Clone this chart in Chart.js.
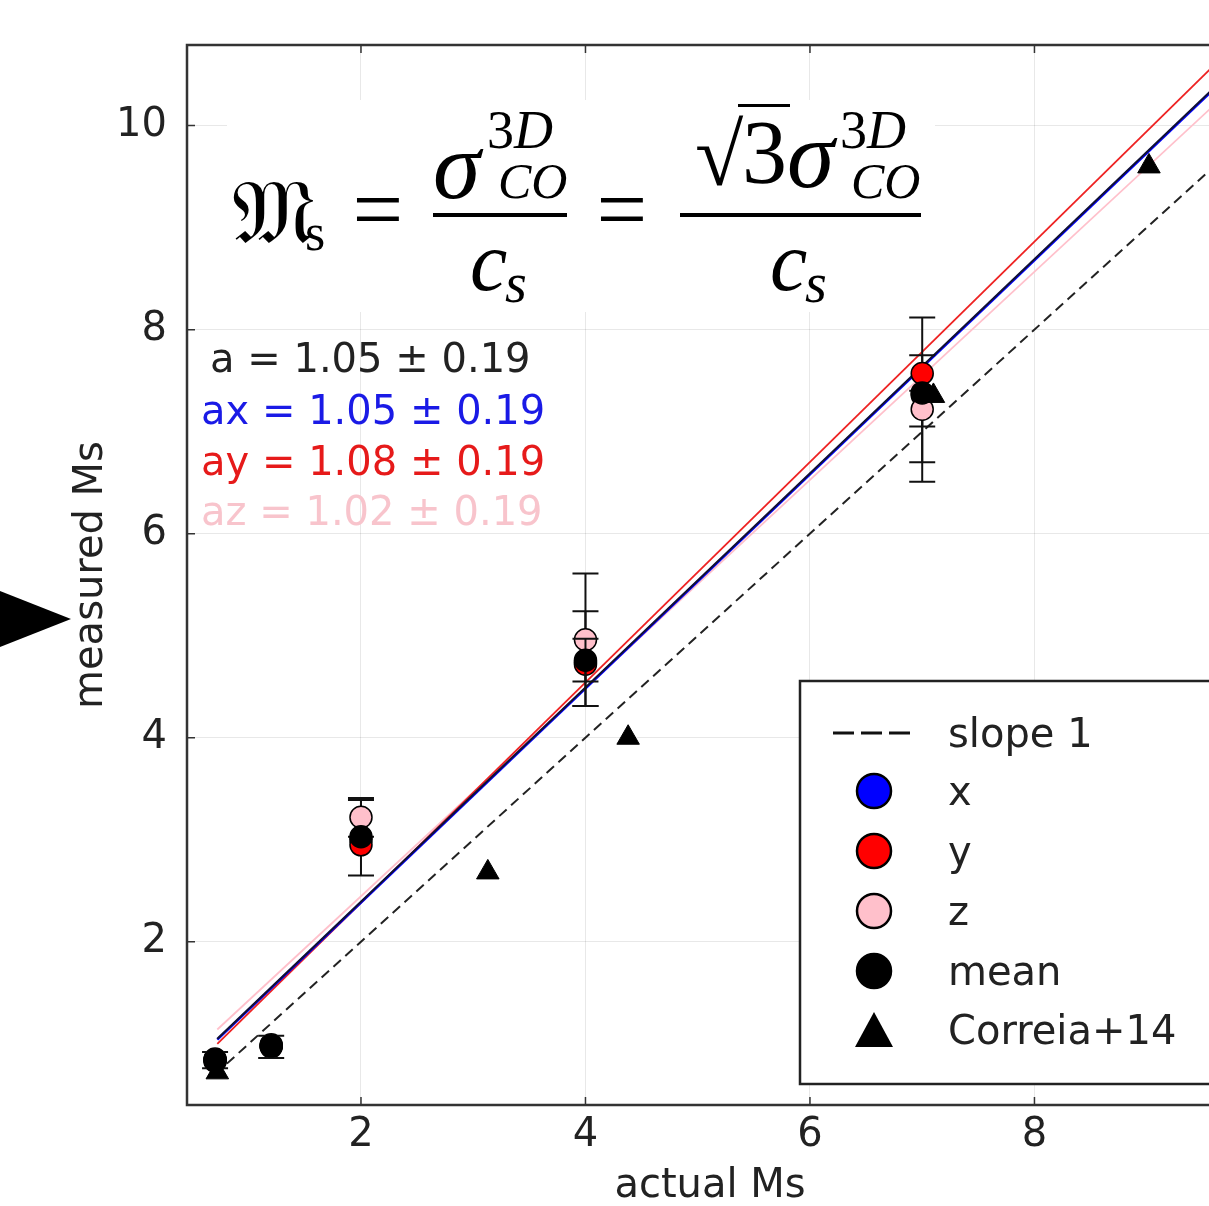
<!DOCTYPE html>
<html>
<head>
<meta charset="utf-8">
<script src="https://cdn.jsdelivr.net/npm/chart.js@4.4.0/dist/chart.umd.min.js"></script>
<style>
  html, body { margin: 0; padding: 0; background: #fff; overflow: hidden; }
  #c { display: block; }
</style>
</head>
<body>
<canvas id="c" width="1209" height="1206"></canvas>
<script>
// actual Mach numbers of the runs
var actualMs = [0.7, 1.2, 2, 4, 7];
// measured Ms for each line of sight, and their mean
var msX = [0.84, 0.98, 3.00, 4.74, 7.36];
var msY = [0.83, 0.97, 2.95, 4.72, 7.57];
var msZ = [0.85, 0.99, 3.22, 4.96, 7.22];
var msMean = [0.84, 0.98, 3.03, 4.76, 7.38];
// error bar ends (null = no bar drawn)
var errXlo = [null, null, null, null, 6.51];
var errXhi = [null, null, null, null, 8.12];
var errYlo = [null, null, 2.65, 4.31, 7.05];
var errYhi = [null, null, 3.39, 5.24, 7.75];
var errZlo = [null, null, 3.03, 4.31, 6.70];
var errZhi = [null, null, 3.41, 5.61, 7.40];
var errMlo = [0.76, 0.86, null, 4.55, null];
var errMhi = [0.92, 1.08, null, 4.97, null];
// Correia+14 comparison points
var corrX = [0.72, 3.13, 4.38, 7.10, 9.02];
var corrY = [0.72, 2.68, 4.00, 7.35, 9.60];
// fitted lines (end points)
var fitX = [0.72, 9.6];
var fitMean = [1.05, 10.37];
var fitAx = [1.04, 10.36];
var fitAy = [1.00, 10.59];
var fitAz = [1.14, 10.20];
var slope1X = [0.7, 9.6];
var slope1Y = [0.7, 9.6];
// tick labels
var xTicks = [2, 4, 6, 8];
var yTicks = [2, 4, 6, 8, 10];

var FONT = '"DejaVu Sans", "Liberation Sans", sans-serif';
var SERIF = '"Liberation Serif", "DejaVu Serif", serif';

function pts(xs, ys) {
	return xs.map(function (x, i) { return { x: x, y: ys[i] }; });
}

function pointSet(label, vals, color, lo, hi, order) {
	return {
		label: label,
		data: pts(actualMs, vals),
		backgroundColor: color,
		borderColor: '#000',
		borderWidth: 1.5,
		pointRadius: 11,
		pointHoverRadius: 11,
		errLo: lo,
		errHi: hi,
		order: order
	};
}

function lineSet(label, xs, ys, color, width, dash, order) {
	return {
		label: label,
		data: pts(xs, ys),
		showLine: true,
		borderColor: color,
		borderWidth: width,
		borderDash: dash || [],
		pointRadius: 0,
		fill: false,
		order: order
	};
}

var datasets = [
	{
		label: 'Correia+14',
		data: pts(corrX, corrY),
		pointStyle: 'triangle',
		pointRadius: 13,
		backgroundColor: '#000',
		borderColor: '#000',
		borderWidth: 1,
		order: 0
	},
	pointSet('mean', msMean, '#000000', errMlo, errMhi, 1),
	pointSet('z', msZ, '#ffc0cb', errZlo, errZhi, 2),
	pointSet('y', msY, '#ff0000', errYlo, errYhi, 3),
	pointSet('x', msX, '#0000ff', errXlo, errXhi, 4),
	lineSet('fit mean', fitX, fitMean, '#111133', 2, null, 5),
	lineSet('fit x', fitX, fitAx, '#0000ff', 2.5, null, 6),
	lineSet('fit y', fitX, fitAy, '#ee2222', 1.8, null, 7),
	lineSet('fit z', fitX, fitAz, '#ffc0cb', 1.8, null, 8),
	lineSet('slope 1', slope1X, slope1Y, '#222', 2, [10, 6], 9)
];

// error bars drawn just before each point series
var errorBars = {
	id: 'errorBars',
	beforeDatasetDraw: function (chart, args) {
		var ds = chart.data.datasets[args.index];
		if (!ds.errLo) return;
		var xs = chart.scales.x, ys = chart.scales.y, ctx = chart.ctx;
		ctx.save();
		ctx.strokeStyle = '#111';
		ctx.lineWidth = 2;
		ds.data.forEach(function (p, i) {
			if (ds.errLo[i] == null) return;
			var px = xs.getPixelForValue(p.x);
			var y0 = ys.getPixelForValue(ds.errLo[i]);
			var y1 = ys.getPixelForValue(ds.errHi[i]);
			ctx.beginPath();
			ctx.moveTo(px, y0); ctx.lineTo(px, y1);
			ctx.moveTo(px - 13, y0); ctx.lineTo(px + 13, y0);
			ctx.moveTo(px - 13, y1); ctx.lineTo(px + 13, y1);
			ctx.stroke();
		});
		ctx.restore();
	}
};

function txt(ctx, s, x, y, font, color, align) {
	ctx.font = font;
	ctx.fillStyle = color;
	ctx.textAlign = align || 'left';
	ctx.textBaseline = 'alphabetic';
	ctx.fillText(s, x, y);
}

// formula box and fit labels (under the data)
var annotations = {
	id: 'annotations',
	beforeDatasetsDraw: function (chart) {
		var ctx = chart.ctx;
		ctx.save();
		ctx.fillStyle = '#fff';
		ctx.fillRect(227, 100, 708, 212);

		var it = 'italic ';
		txt(ctx, '\uD835\uDD10', 232, 243, '90px ' + SERIF, '#000');
		txt(ctx, 's', 305, 250, '52px ' + SERIF, '#000');
		txt(ctx, '=', 378, 240, '90px ' + SERIF, '#000', 'center');
		txt(ctx, '\u03C3', 433, 198, it + '96px ' + SERIF, '#000');
		txt(ctx, '3', 487, 148, '54px ' + SERIF, '#000');
		txt(ctx, 'D', 514, 148, it + '54px ' + SERIF, '#000');
		txt(ctx, 'CO', 498, 198, it + '50px ' + SERIF, '#000');
		ctx.fillStyle = '#000';
		ctx.fillRect(433, 213, 134, 4);
		txt(ctx, 'c', 470, 290, it + '84px ' + SERIF, '#000');
		txt(ctx, 's', 505, 302, it + '56px ' + SERIF, '#000');
		txt(ctx, '=', 622, 240, '90px ' + SERIF, '#000', 'center');
		txt(ctx, '\u221A', 695, 185, '88px ' + SERIF, '#000');
		ctx.fillStyle = '#000';
		ctx.fillRect(738, 104, 52, 3);
		txt(ctx, '3', 742, 183, '90px ' + SERIF, '#000');
		txt(ctx, '\u03C3', 787, 187, it + '96px ' + SERIF, '#000');
		txt(ctx, '3', 840, 148, '54px ' + SERIF, '#000');
		txt(ctx, 'D', 867, 148, it + '54px ' + SERIF, '#000');
		txt(ctx, 'CO', 851, 198, it + '50px ' + SERIF, '#000');
		ctx.fillStyle = '#000';
		ctx.fillRect(680, 213, 241, 4);
		txt(ctx, 'c', 770, 290, it + '84px ' + SERIF, '#000');
		txt(ctx, 's', 805, 302, it + '56px ' + SERIF, '#000');

		txt(ctx, 'a = 1.05 \u00B1 0.19', 210, 372, '40px ' + FONT, '#222');
		txt(ctx, 'ax = 1.05 \u00B1 0.19', 201, 424, '40px ' + FONT, '#1a1ae6');
		txt(ctx, 'ay = 1.08 \u00B1 0.19', 201, 475, '40px ' + FONT, '#e61a1a');
		txt(ctx, 'az = 1.02 \u00B1 0.19', 201, 525, '40px ' + FONT, '#f8c4cc');
		ctx.restore();
	},
	afterDraw: function (chart) {
		var ctx = chart.ctx, a = chart.chartArea;
		var xs = chart.scales.x, ys = chart.scales.y;
		ctx.save();
		// legend box
		ctx.fillStyle = '#fff';
		ctx.fillRect(800, 681, 420, 403);
		ctx.strokeStyle = '#222';
		ctx.lineWidth = 2.5;
		ctx.strokeRect(800, 681, 420, 403);
		ctx.strokeStyle = '#111';
		ctx.lineWidth = 3;
		ctx.setLineDash([21, 7]);
		ctx.beginPath(); ctx.moveTo(833, 733); ctx.lineTo(910, 733); ctx.stroke();
		ctx.setLineDash([]);
		var rows = [['x', '#0000ff'], ['y', '#ff0000'], ['z', '#ffc0cb'], ['mean', '#000']];
		rows.forEach(function (r, i) {
			var cy = 791 + i * 60;
			ctx.beginPath();
			ctx.arc(874, cy, 17, 0, Math.PI * 2);
			ctx.fillStyle = r[1]; ctx.fill();
			ctx.lineWidth = 2.5; ctx.strokeStyle = '#000'; ctx.stroke();
			txt(ctx, r[0], 948, cy + 14, '40px ' + FONT, '#222');
		});
		ctx.beginPath();
		ctx.moveTo(874, 1012); ctx.lineTo(893, 1047); ctx.lineTo(855, 1047); ctx.closePath();
		ctx.fillStyle = '#000'; ctx.fill();
		txt(ctx, 'slope 1', 948, 747, '40px ' + FONT, '#222');
		txt(ctx, 'Correia+14', 948, 1044, '40px ' + FONT, '#222');

		// frame and inward ticks
		ctx.strokeStyle = '#333';
		ctx.lineWidth = 2.5;
		ctx.beginPath();
		ctx.moveTo(a.right + 5, a.top); ctx.lineTo(a.left, a.top);
		ctx.lineTo(a.left, a.bottom); ctx.lineTo(a.right + 5, a.bottom);
		ctx.stroke();
		ctx.lineWidth = 1.5;
		ctx.beginPath();
		xTicks.forEach(function (v) {
			var px = xs.getPixelForValue(v);
			ctx.moveTo(px, a.top); ctx.lineTo(px, a.top + 8);
			ctx.moveTo(px, a.bottom); ctx.lineTo(px, a.bottom - 8);
		});
		yTicks.forEach(function (v) {
			var py = ys.getPixelForValue(v);
			ctx.moveTo(a.left, py); ctx.lineTo(a.left + 8, py);
		});
		ctx.stroke();

		// axis titles
		txt(ctx, 'actual Ms', 710, 1197, '40px ' + FONT, '#222', 'center');
		ctx.translate(102, 575);
		ctx.rotate(-Math.PI / 2);
		txt(ctx, 'measured Ms', 0, 0, '40px ' + FONT, '#222', 'center');
		ctx.restore();

		// pointer arrow at the left edge
		ctx.save();
		ctx.fillStyle = '#000';
		ctx.beginPath();
		ctx.moveTo(0, 591); ctx.lineTo(71, 619); ctx.lineTo(0, 647); ctx.closePath();
		ctx.fill();
		ctx.restore();
	}
};

var whiteBg = {
	id: 'whiteBg',
	beforeDraw: function (chart) {
		var ctx = chart.ctx;
		ctx.save();
		ctx.fillStyle = '#fff';
		ctx.fillRect(0, 0, chart.width, chart.height);
		ctx.restore();
	}
};

var ctx = document.getElementById('c').getContext('2d');
var chart = new Chart(ctx, {
	type: 'scatter',
	data: { datasets: datasets },
	plugins: [whiteBg, errorBars, annotations],
	options: {
		responsive: false,
		animation: false,
		events: [],
		layout: { autoPadding: false, padding: { top: 45, left: 0, right: 0, bottom: 0 } },
		plugins: { legend: { display: false }, tooltip: { enabled: false } },
		scales: {
			x: {
				type: 'linear',
				min: 0.45,
				max: 9.555,
				afterFit: function (s) { s.height = 101; s.paddingLeft = 0; s.paddingRight = 0; },
				afterBuildTicks: function (s) { s.ticks = xTicks.map(function (v) { return { value: v }; }); },
				grid: { color: 'rgba(0,0,0,0.09)', lineWidth: 1, drawTicks: false },
				border: { display: false },
				ticks: { padding: 7, color: '#222', font: { family: FONT, size: 40 }, maxRotation: 0 }
			},
			y: {
				type: 'linear',
				min: 0.40,
				max: 10.79,
				afterFit: function (s) { s.width = 187; s.paddingTop = 0; s.paddingBottom = 0; },
				afterBuildTicks: function (s) { s.ticks = yTicks.map(function (v) { return { value: v }; }); },
				grid: { color: 'rgba(0,0,0,0.09)', lineWidth: 1, drawTicks: false },
				border: { display: false },
				ticks: { padding: 20, color: '#222', font: { family: FONT, size: 40 } }
			}
		}
	}
});
</script>
</body>
</html>
